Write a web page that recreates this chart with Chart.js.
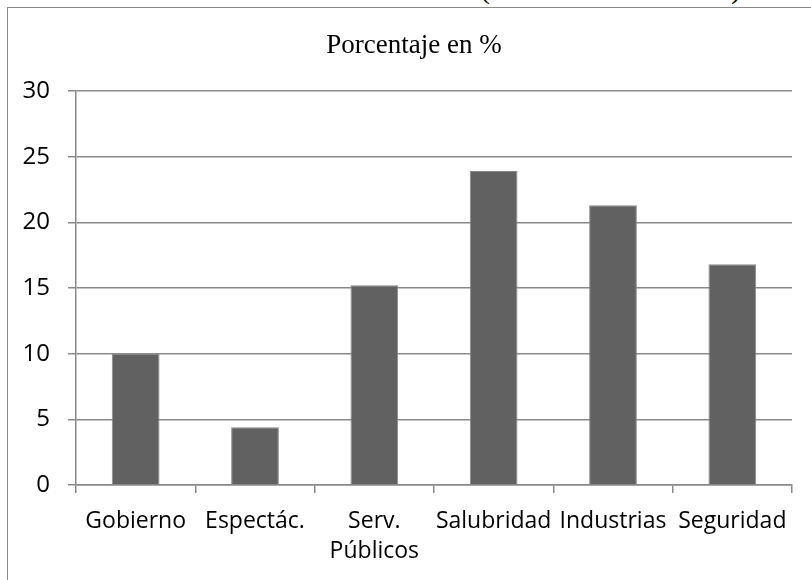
<!DOCTYPE html>
<html>
<head>
<meta charset="utf-8">
<script src="https://cdn.jsdelivr.net/npm/chart.js@4.4.1/dist/chart.umd.min.js"></script>
<style>
  body { margin: 0; background: #fff; width: 811px; height: 580px; overflow: hidden; position: relative; }
  #box { position: absolute; left: 7px; top: 7px; width: 900px; height: 700px; border: 1.5px solid #8a8a8a; }
  .paren { position: absolute; top: -29px; font: 30px "Liberation Serif", serif; color: #000; }
  #chart { position: absolute; left: 0; top: 0; }
</style>
</head>
<body>
<div id="box"></div>
<span class="paren" style="left:480px">(</span>
<span class="paren" style="left:731px">)</span>
<canvas id="chart" width="811" height="580"></canvas>
<script>
// chart data
const categories = ["Gobierno", "Espectác.", ["Serv.", "Públicos"], "Salubridad", "Industrias", "Seguridad"];
const porcentajes = [10, 4.4, 15.2, 23.9, 21.3, 16.8];
const yTicks = [0, 5, 10, 15, 20, 25, 30];
const chartTitle = "Porcentaje en %";

// draw the title centered on the outer box, not the canvas
const titlePlugin = {
  id: "boxTitle",
  afterDraw(chart) {
    const ctx = chart.ctx;
    ctx.save();
    ctx.font = '27px "Liberation Serif"';
    ctx.fillStyle = "#000";
    ctx.textAlign = "center";
    ctx.textBaseline = "alphabetic";
    ctx.fillText(chartTitle, 414, 53);
    ctx.restore();
  }
};

const ctx = document.getElementById("chart");

new Chart(ctx, {
  type: "bar",
  data: {
    labels: categories,
    datasets: [{
      label: chartTitle,
      data: porcentajes,
      backgroundColor: "#616161",
      borderColor: "#8a8a8a",
      borderWidth: 1,
      barPercentage: 0.4,
      categoryPercentage: 1
    }]
  },
  options: {
    responsive: false,
    maintainAspectRatio: false,
    animation: false,
    devicePixelRatio: 1,
    layout: { padding: { top: 91, right: 19, bottom: 0, left: 0 } },
    plugins: {
      legend: { display: false },
      title: { display: false },
      tooltip: { enabled: false }
    },
    scales: {
      x: {
        grid: { drawOnChartArea: false, drawTicks: true, tickLength: 8, color: "#8a8a8a", lineWidth: 1.5 },
        border: { color: "#8a8a8a", width: 1.5 },
        ticks: {
          color: "#000",
          font: { family: "Open Sans", size: 23, lineHeight: 1.3 },
          padding: 14,
          autoSkip: false,
          maxRotation: 0
        },
        afterFit(scale) { scale.height = 95; }
      },
      y: {
        min: 0,
        max: 30,
        afterBuildTicks(scale) { scale.ticks = yTicks.map(v => ({ value: v })); },
        grid: { color: "#8a8a8a", lineWidth: 1.5, tickLength: 8 },
        border: { color: "#8a8a8a", width: 1.5 },
        ticks: {
          color: "#000",
          font: { family: "Open Sans", size: 24 },
          padding: 18
        },
        afterFit(scale) { scale.width = 76; }
      }
    }
  },
  plugins: [titlePlugin]
});
</script>
</body>
</html>
